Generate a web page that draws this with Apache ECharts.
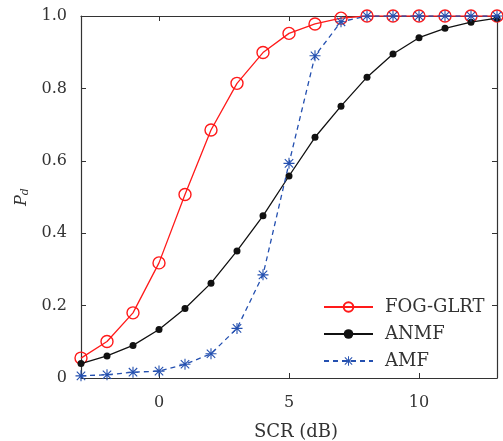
<!DOCTYPE html>
<html>
<head>
<meta charset="utf-8">
<script src="https://cdn.jsdelivr.net/npm/echarts@6/dist/echarts.min.js"></script>
<style>
html,body{margin:0;padding:0;background:#fff;}
#chart{width:503px;height:441px;}
</style>
</head>
<body>
<div id="chart"></div>
<script>
const scr = [-3,-2,-1,0,1,2,3,4,5,6,7,8,9,10,11,12,13];
const fogGlrt = [0.055,0.101,0.180,0.318,0.507,0.685,0.814,0.899,0.952,0.978,0.994,1.0,1.0,1.0,1.0,1.0,1.0];
const anmf    = [0.040,0.061,0.090,0.134,0.192,0.262,0.351,0.448,0.558,0.665,0.751,0.831,0.895,0.940,0.966,0.983,0.994];
const amf     = [0.006,0.009,0.016,0.019,0.038,0.067,0.137,0.285,0.593,0.890,0.984,1.0,1.0,1.0,1.0,1.0,1.0];
const xTicks = [0,5,10];
const seriesNames = ['FOG-GLRT','ANMF','AMF'];

const pair = (ys) => scr.map((x,i)=>[x, ys[i]]);
const FONT = 'DejaVu Serif';
const STAR = 'path://M-0.6,-6 L0.6,-6 L0.6,6 L-0.6,6 Z M-6,-0.6 L6,-0.6 L6,0.6 L-6,0.6 Z ' +
  'M-4.18,-5.02 L5.02,4.18 L4.18,5.02 L-5.02,-4.18 Z M-5.02,4.18 L4.18,-5.02 L5.02,-4.18 L-4.18,5.02 Z';

const chart = echarts.init(document.getElementById('chart'), null, {renderer:'canvas'});
const axisCommon = {
  axisLine:{show:true, onZero:false, lineStyle:{color:'#333', width:1.2}},
  splitLine:{show:false}
};
chart.setOption({
  animation:false,
  backgroundColor:'#fff',
  grid:{left:81, right:6, top:16, bottom:63, containLabel:false, outerBoundsMode:'none'},
  legend:{
    orient:'vertical', left:323, top:298, padding:0,
    itemWidth:49, itemHeight:12, itemGap:9,
    textStyle:{fontFamily:FONT, fontSize:18, color:'#333', padding:[0,0,0,7]},
    data:seriesNames
  },
  xAxis:[
    Object.assign({}, axisCommon, {
      type:'value', min:-3, max:13, position:'bottom',
      name:'SCR (dB)', nameLocation:'middle', nameGap:45,
      nameTextStyle:{fontFamily:FONT, fontSize:18, color:'#333', padding:[0,0,0,14]},
      axisTick:{show:true, inside:true, length:5, customValues:xTicks, lineStyle:{color:'#333'}},
      axisLabel:{customValues:xTicks, fontFamily:FONT, fontSize:16, color:'#333', margin:17}
    }),
    Object.assign({}, axisCommon, {
      type:'value', min:-3, max:13, position:'top',
      axisTick:{show:true, inside:true, length:5, customValues:xTicks, lineStyle:{color:'#333'}},
      axisLabel:{show:false, customValues:xTicks}
    })
  ],
  yAxis:[
    Object.assign({}, axisCommon, {
      type:'value', min:0, max:1, interval:0.2, position:'left',
      name:'{p|P}{d|d}', nameLocation:'middle', nameGap:50, nameRotate:90,
      nameTextStyle:{rich:{
        p:{fontFamily:FONT, fontStyle:'italic', fontSize:16, color:'#333'},
        d:{fontFamily:FONT, fontStyle:'italic', fontSize:11, color:'#333', verticalAlign:'bottom', padding:[6,0,0,0]}
      }},
      axisTick:{show:true, inside:true, length:5, lineStyle:{color:'#333'}},
      axisLabel:{fontFamily:FONT, fontSize:16, color:'#333', margin:14,
        formatter:(v)=> v===0 ? '0' : v.toFixed(1)}
    }),
    Object.assign({}, axisCommon, {
      type:'value', min:0, max:1, interval:0.2, position:'right',
      axisTick:{show:true, inside:true, length:5, lineStyle:{color:'#333'}},
      axisLabel:{show:false}
    })
  ],
  series:[
    {
      name:seriesNames[0], type:'line', data:pair(fogGlrt),
      symbol:'circle', symbolSize:12,
      lineStyle:{color:'#ff1a1a', width:1.3},
      itemStyle:{color:'rgba(255,255,255,0)', borderColor:'#ff1a1a', borderWidth:1.4},
      z:2
    },
    {
      name:seriesNames[1], type:'line', data:pair(anmf),
      symbol:'circle', symbolSize:7,
      lineStyle:{color:'#111', width:1.3},
      itemStyle:{color:'#111', borderWidth:0},
      z:3
    },
    {
      name:seriesNames[2], type:'line', data:pair(amf),
      symbol:STAR, symbolSize:11,
      lineStyle:{color:'#2450b0', width:1.3, type:[5,4]},
      itemStyle:{color:'#2450b0', borderWidth:0},
      z:4
    }
  ]
});
</script>
</body>
</html>
